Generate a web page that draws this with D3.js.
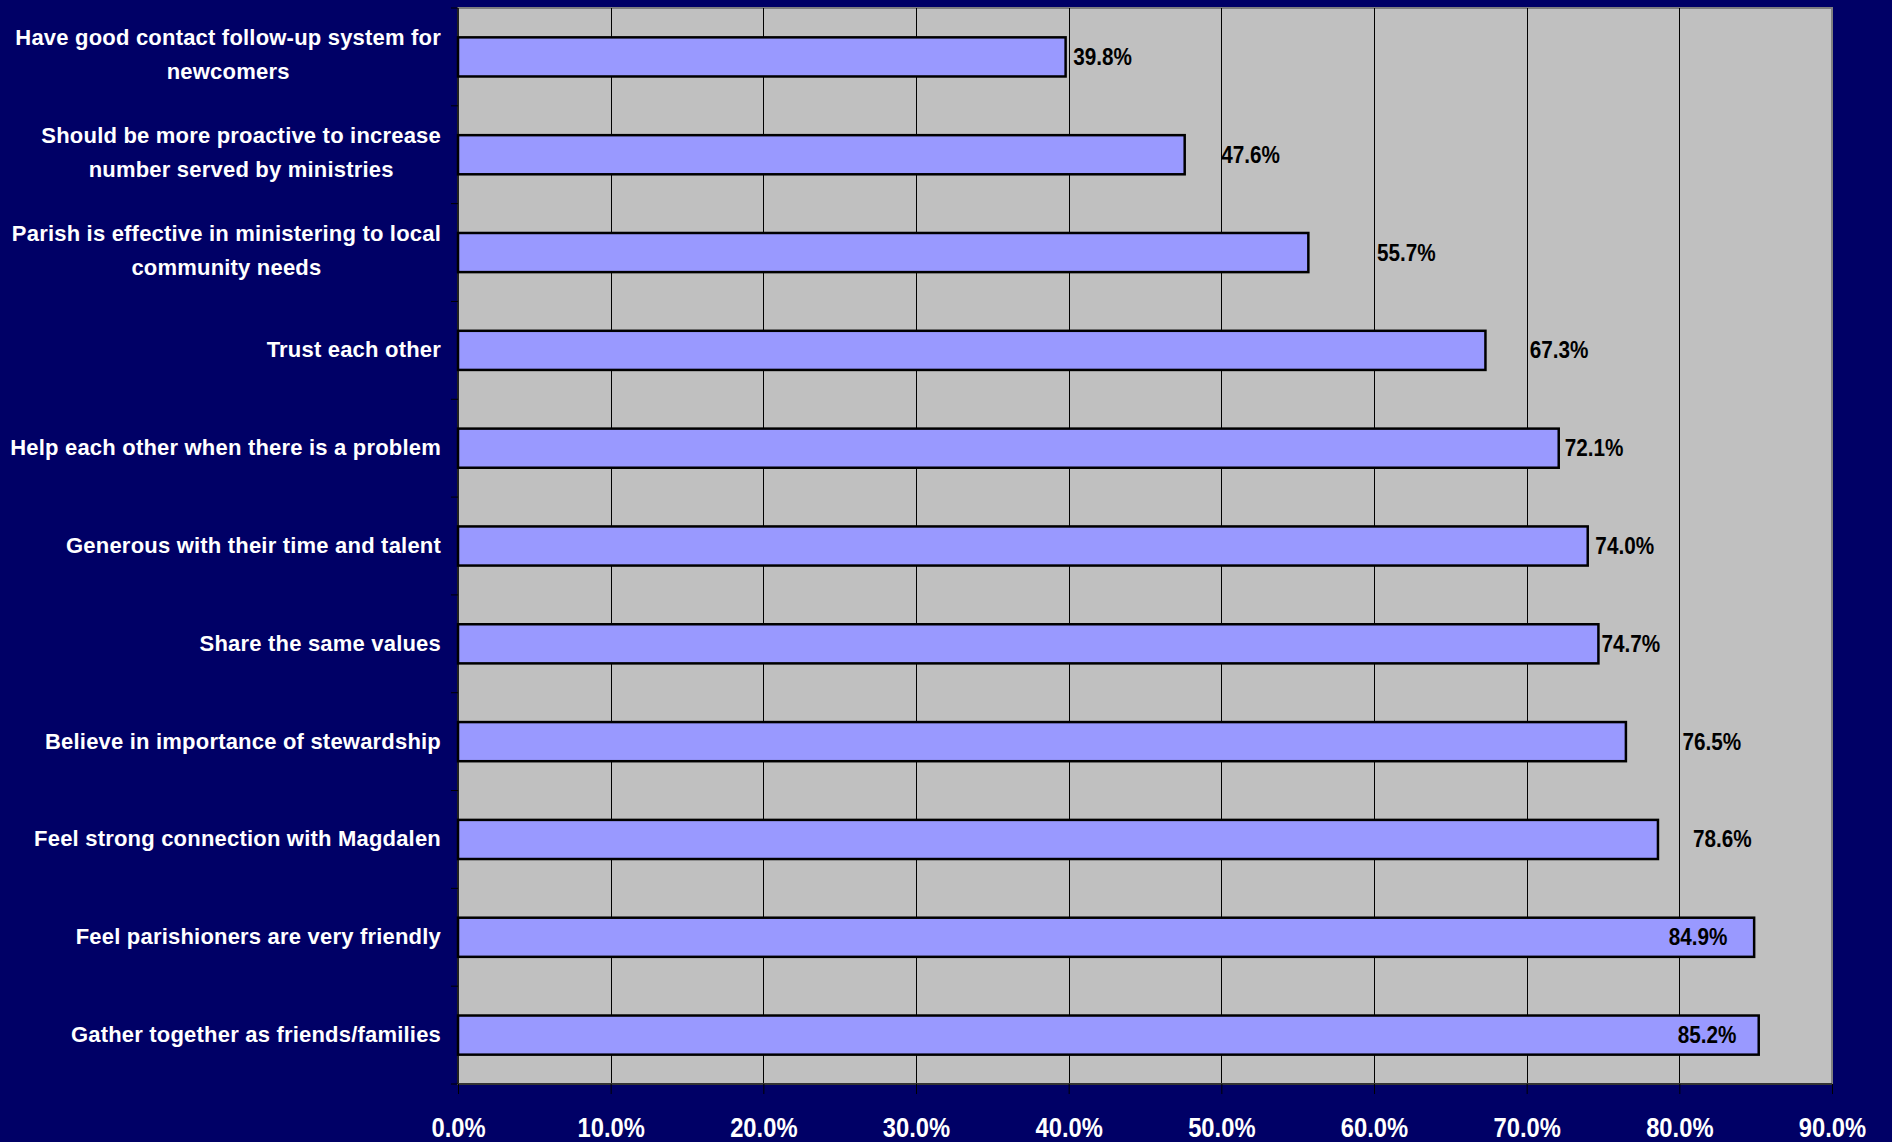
<!DOCTYPE html>
<html>
<head>
<meta charset="utf-8">
<script src="https://cdn.jsdelivr.net/npm/d3@7"></script>
<style>
  html, body { margin: 0; padding: 0; background: #000066; }
  svg { display: block; }
  text { font-family: "Liberation Sans", Arial, sans-serif; font-weight: bold; }
</style>
</head>
<body>
<svg id="chart" width="1892" height="1142"></svg>
<script>
// ---- data (top to bottom as shown) ----
const categories = [
  "Have good contact follow-up system for\nnewcomers",
  "Should be more proactive to increase\nnumber served by ministries",
  "Parish is effective in ministering to local\ncommunity needs",
  "Trust each other",
  "Help each other when there is a problem",
  "Generous with their time and talent",
  "Share the same values",
  "Believe in importance of stewardship",
  "Feel strong connection with Magdalen",
  "Feel parishioners are very friendly",
  "Gather together as friends/families"
];
const values = [39.8, 47.6, 55.7, 67.3, 72.1, 74.0, 74.7, 76.5, 78.6, 84.9, 85.2];
// where the data label sits along the value axis (percent), as placed in the original
const labelAt = [40.3, 50.0, 60.2, 70.2, 72.5, 74.5, 74.9, 80.2, 80.9, 79.3, 79.9];
const xTicks = [0, 10, 20, 30, 40, 50, 60, 70, 80, 90];

// ---- layout ----
const svg = d3.select("#chart");
const W = 1892, H = 1142;
const plot = { left: 458, right: 1832, top: 8, bottom: 1084 };
const labelRight = 441;

svg.append("rect").attr("width", W).attr("height", H).attr("fill", "#000066");

const x = d3.scaleLinear().domain([0, 90]).range([plot.left, plot.right]);
const y = d3.scaleBand().domain(categories).range([plot.top, plot.bottom])
  .paddingInner(0.6).paddingOuter(0.3);

// plot area
svg.append("rect")
  .attr("x", plot.left).attr("y", plot.top)
  .attr("width", plot.right - plot.left).attr("height", plot.bottom - plot.top)
  .attr("fill", "#C0C0C0").attr("stroke", "#808080").attr("stroke-width", 2);

// gridlines
svg.append("g").selectAll("line").data(xTicks.filter(t => t > 0 && t < 90)).join("line")
  .attr("x1", d => Math.round(x(d)) + 0.5).attr("x2", d => Math.round(x(d)) + 0.5)
  .attr("y1", plot.top).attr("y2", plot.bottom)
  .attr("stroke", "#000").attr("stroke-width", 1);

// bars
svg.append("g").selectAll("rect").data(values).join("rect")
  .attr("x", x(0))
  .attr("y", (d, i) => y(categories[i]))
  .attr("width", d => x(d) - x(0))
  .attr("height", y.bandwidth())
  .attr("fill", "#9999FF").attr("stroke", "#000").attr("stroke-width", 2.5);

// axes lines
svg.append("line").attr("x1", plot.left).attr("x2", plot.left)
  .attr("y1", plot.top).attr("y2", plot.bottom).attr("stroke", "#000").attr("stroke-width", 1.5);
svg.append("line").attr("x1", plot.left).attr("x2", plot.right)
  .attr("y1", plot.bottom).attr("y2", plot.bottom).attr("stroke", "#333").attr("stroke-width", 2);

// bottom axis
const xAxis = d3.axisBottom(x).tickValues(xTicks).tickSize(10).tickSizeOuter(0)
  .tickFormat(d => d3.format(".1f")(d) + "%");
const gx = svg.append("g").attr("transform", `translate(0,${plot.bottom})`).call(xAxis);
gx.select(".domain").remove();
gx.selectAll(".tick line").attr("stroke", "#000").attr("stroke-width", 1);
gx.selectAll(".tick text").each(function () {
  const t = d3.select(this);
  t.attr("fill", "#fff").attr("font-size", 27).attr("dy", null).attr("y", 0)
   .attr("transform", "translate(0,53) scale(0.88,1)")
   .attr("font-family", "Liberation Sans, Arial, sans-serif").attr("font-weight", "bold");
});

// left ticks at band boundaries
const bounds = d3.range(categories.length + 1).map(i => plot.top + i * y.step());
svg.append("g").selectAll("line").data(bounds).join("line")
  .attr("x1", plot.left - 7).attr("x2", plot.left)
  .attr("y1", d => d).attr("y2", d => d)
  .attr("stroke", "#000").attr("stroke-width", 1);

// category labels (block right-aligned, lines centred within block)
const labG = svg.append("g");
categories.forEach(c => {
  const lines = c.split("\n");
  const lh = 34;
  const cy = y(c) + y.bandwidth() / 2;
  const t = labG.append("text")
    .attr("fill", "#fff").attr("font-size", 22).attr("letter-spacing", 0.2)
    .attr("y", cy);
  lines.forEach((ln, k) => {
    t.append("tspan").attr("dy", k === 0 ? (-(lines.length - 1) * lh / 2 + (lines.length > 1 ? 5 : 7)) : lh)
      .text(ln);
  });
  if (lines.length === 1) {
    t.attr("text-anchor", "end").selectAll("tspan").attr("x", labelRight);
  } else {
    // measure widest line
    let maxW = 0;
    t.selectAll("tspan").each(function () { maxW = Math.max(maxW, this.getComputedTextLength()); });
    const mid = labelRight - maxW / 2;
    t.attr("text-anchor", "middle").selectAll("tspan").attr("x", mid);
  }
});

// value labels
svg.append("g").selectAll("g").data(values).join("g")
  .attr("transform", (d, i) => `translate(${x(labelAt[i])},${y(categories[i]) + y.bandwidth() / 2 + 8}) scale(0.9,1)`)
  .append("text")
  .attr("fill", "#000").attr("font-size", 23)
  .text(d => d3.format(".1f")(d) + "%");
</script>
</body>
</html>
